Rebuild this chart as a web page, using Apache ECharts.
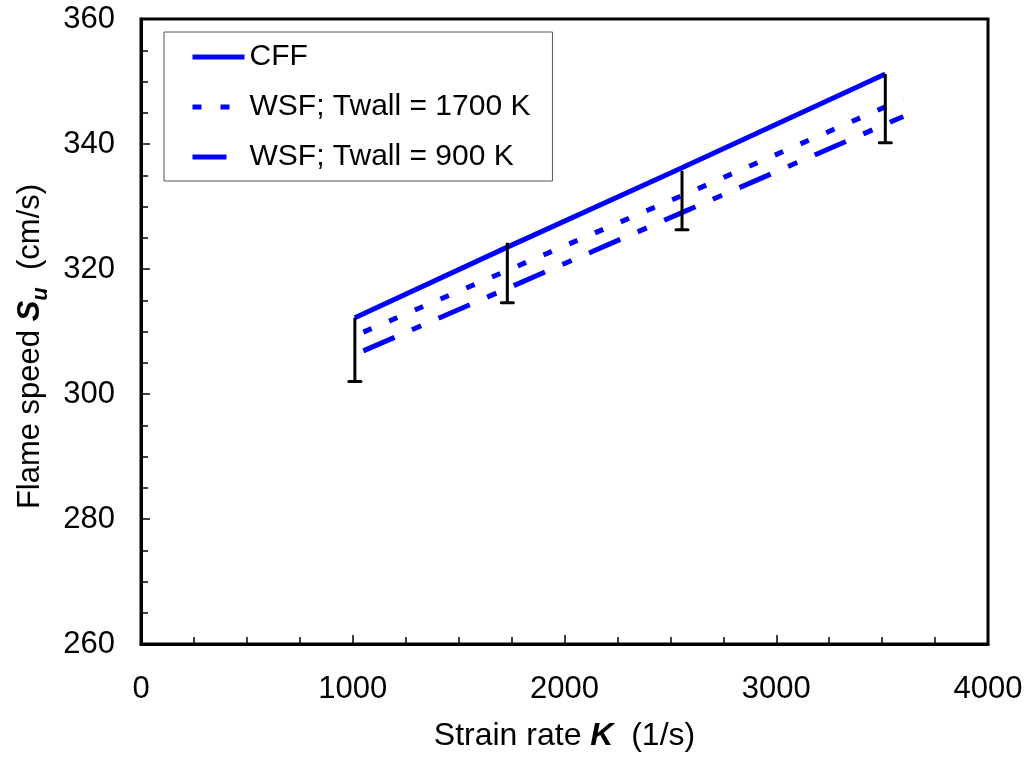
<!DOCTYPE html>
<html>
<head>
<meta charset="utf-8">
<script src="https://cdn.jsdelivr.net/npm/echarts@6/dist/echarts.min.js"></script>
<style>
html,body{margin:0;padding:0;background:#fff;}
#chart{width:1032px;height:757px;}
</style>
</head>
<body>
<div id="chart"></div>
<script>
// ---- data ----
const cffK = [1010, 1730, 2555, 3515];
const cffS = [312.2, 323.5, 336.2, 351.2];
const wsf1700K = [1050, 2600, 3600];
const wsf1700S = [309.9, 332.4, 347.2];
const wsf900K = [1050, 2560, 3600];
const wsf900S = [306.9, 329.1, 344.4];
const errK = [1010, 1730, 2555, 3515];
const errHigh = [312.2, 324.2, 335.7, 351.2];
const errLow = [302.0, 314.6, 326.3, 340.2];
const seriesNames = ['CFF', 'WSF; Twall = 1700 K', 'WSF; Twall = 900 K'];
const xTicks = [0, 1000, 2000, 3000, 4000];
const yTicks = [260, 280, 300, 320, 340, 360];

const FONT = "'Liberation Sans', Arial, sans-serif";
const zip = (a, b) => a.map((v, i) => [v, b[i]]);

const chart = echarts.init(document.getElementById('chart'), null, {renderer: 'canvas'});
chart.setOption({
  animation: false,
  backgroundColor: '#fff',
  grid: {left: 141, right: 44, top: 19, bottom: 112, show: true, borderColor: '#000', borderWidth: 3},
  legend: {
    left: 164, top: 32, orient: 'vertical',
    padding: [10, 22, 9, 26],
    itemGap: 20, itemWidth: 52, itemHeight: 30,
    borderColor: '#555', borderWidth: 1, backgroundColor: '#fff',
    itemStyle: {opacity: 0},
    lineStyle: {width: 5},
    textStyle: {fontFamily: FONT, fontSize: 30, color: '#000', lineHeight: 30},
    data: seriesNames
  },
  xAxis: {
    type: 'value', min: xTicks[0], max: xTicks[xTicks.length - 1], interval: 1000,
    axisLine: {show: true, lineStyle: {color: '#000', width: 3}},
    axisTick: {inside: true, length: 9, lineStyle: {color: '#000', width: 1.5}},
    minorTick: {show: true, splitNumber: 4, length: 7, lineStyle: {color: '#000', width: 1.5}},
    splitLine: {show: false},
    axisLabel: {fontFamily: FONT, fontSize: 31, color: '#000', margin: 30, formatter: v => String(v)},
    name: '{n|Strain rate }{b|K}{n|  (1/s)}',
    nameLocation: 'middle', nameGap: 76,
    nameTextStyle: {
      fontFamily: FONT, fontSize: 32, color: '#000',
      rich: {
        n: {fontFamily: FONT, fontSize: 32, color: '#000'},
        b: {fontFamily: FONT, fontSize: 32, color: '#000', fontWeight: 'bold', fontStyle: 'italic'}
      }
    }
  },
  yAxis: {
    type: 'value', min: yTicks[0], max: yTicks[yTicks.length - 1], interval: 20,
    axisLine: {show: true, lineStyle: {color: '#000', width: 3}},
    axisTick: {inside: true, length: 9, lineStyle: {color: '#000', width: 1.5}},
    minorTick: {show: true, splitNumber: 4, length: 7, lineStyle: {color: '#000', width: 1.5}},
    splitLine: {show: false},
    axisLabel: {fontFamily: FONT, fontSize: 31, color: '#000', margin: 26},
    name: '{n|Flame speed }{b|S}{s|u}{n|  (cm/s)}',
    nameLocation: 'middle', nameGap: 94,
    nameTextStyle: {
      fontFamily: FONT, fontSize: 32, color: '#000',
      padding: [0, 30, 0, 0],
      rich: {
        n: {fontFamily: FONT, fontSize: 31, color: '#000', lineHeight: 36, verticalAlign: 'bottom'},
        b: {fontFamily: FONT, fontSize: 31, color: '#000', fontWeight: 'bold', fontStyle: 'italic', lineHeight: 36, verticalAlign: 'bottom'},
        s: {fontFamily: FONT, fontSize: 22, color: '#000', fontWeight: 'bold', fontStyle: 'italic', lineHeight: 36, verticalAlign: 'bottom', padding: [0, 0, -6, 0]}
      }
    }
  },
  series: [
    {
      name: seriesNames[0], type: 'line', data: zip(cffK, cffS),
      symbol: 'none', color: '#0000FF',
      lineStyle: {color: '#0000FF', width: 5, type: 'solid'}, z: 3
    },
    {
      name: seriesNames[1], type: 'line', data: zip(wsf1700K, wsf1700S),
      symbol: 'none', color: '#0000FF',
      lineStyle: {color: '#0000FF', width: 5, type: [9, 19], cap: 'butt'}, z: 3
    },
    {
      name: seriesNames[2], type: 'line', data: zip(wsf900K, wsf900S),
      symbol: 'none', color: '#0000FF',
      lineStyle: {color: '#0000FF', width: 5, type: [34, 19, 10, 19], cap: 'butt'}, z: 3
    },
    {
      name: 'err', type: 'custom', z: 4,
      data: errK.map((k, i) => [k, errHigh[i], errLow[i]]),
      renderItem: function (params, api) {
        const top = api.coord([api.value(0), api.value(1)]);
        const bot = api.coord([api.value(0), api.value(2)]);
        return {
          type: 'group',
          children: [
            {type: 'line', shape: {x1: top[0], y1: top[1], x2: bot[0], y2: bot[1]},
             style: {stroke: '#000', lineWidth: 3}},
            {type: 'line', shape: {x1: bot[0] - 6, y1: bot[1], x2: bot[0] + 6, y2: bot[1]},
             style: {stroke: '#000', lineWidth: 3, lineCap: 'round'}}
          ]
        };
      }
    }
  ]
});
</script>
</body>
</html>
